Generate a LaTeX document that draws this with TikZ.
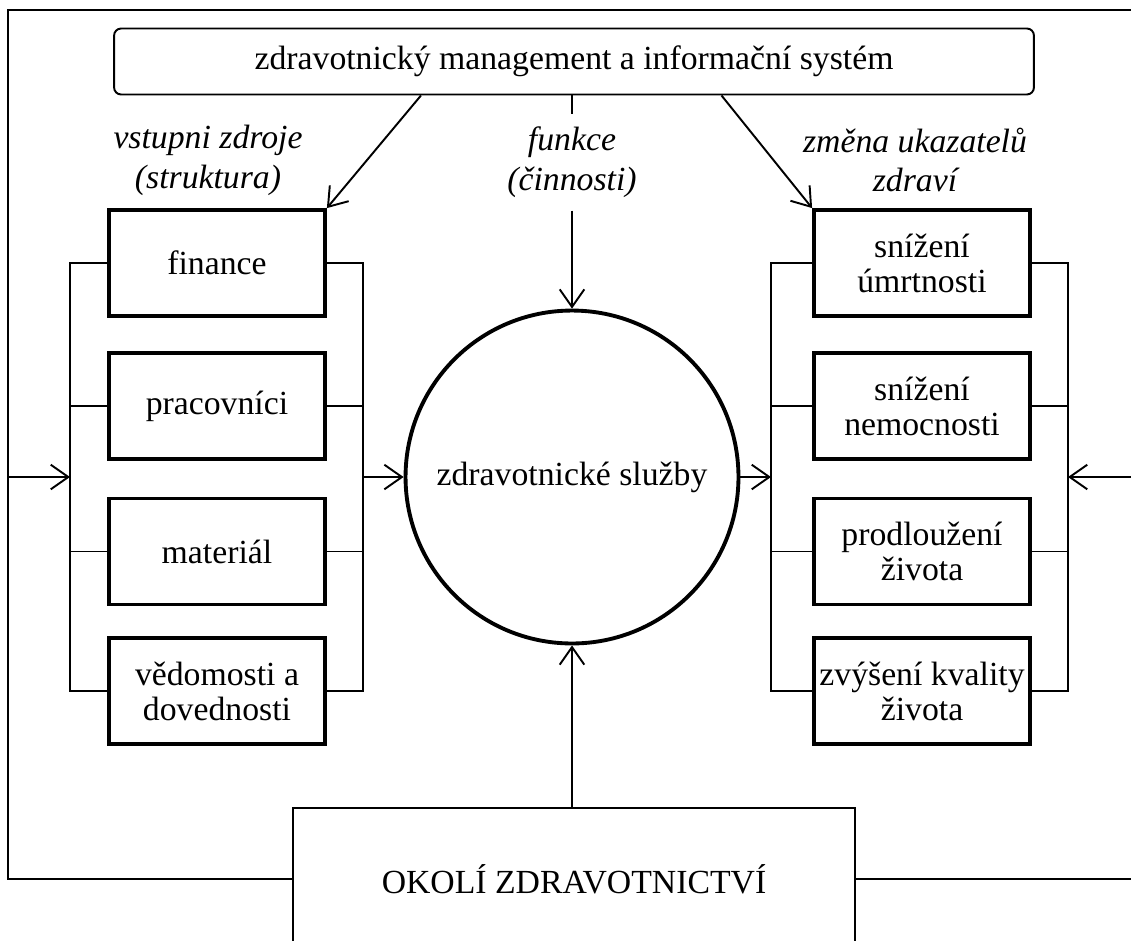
\documentclass[tikz,border=0pt]{standalone}
\usepackage{fontspec}
\setmainfont{Liberation Serif}
\usetikzlibrary{arrows.meta,positioning,calc}

\begin{document}
\begin{tikzpicture}[
  x=0.02cm, y=-0.02cm,
  every node/.style={font=\fontsize{19.2}{20}\selectfont},
  box/.style={rectangle, draw, line width=2.2pt, minimum width=4.32cm, minimum height=2.12cm, align=center, inner sep=1pt},
  mgmtbox/.style={rectangle, draw, rounded corners=4pt, line width=1.1pt, minimum width=18.4cm, minimum height=1.32cm},
  envbox/.style={rectangle, draw, line width=1.1pt, minimum width=11.24cm, minimum height=2.84cm},
  grouplabel/.style={align=center, font=\itshape\fontsize{19.2}{22.7}\selectfont},
  link/.style={line width=1.1pt},
  arrow/.style={link, -{Straight Barb[length=10pt,width=14pt]}}
]
\useasboundingbox (0,0) rectangle (1131,940);

% horni blok
\node[mgmtbox] (mgmt) at (574,61.5) {zdravotnický management a informační systém};

% stred
\node[circle, draw, line width=2.2pt, minimum size=6.66cm] (sluzby) at (572,477) {zdravotnické služby};
\node[grouplabel, inner sep=7pt] (funkce) at (572,162.5) {funkce\\(činnosti)};
\node[envbox] (okoli) at (574,879) {OKOLÍ ZDRAVOTNICTVÍ};

% levo: vstupni zdroje
\node[grouplabel] (vstup) at (208,160) {vstupni zdroje\\(struktura)};
\node[box] (fin) at (217,263) {finance};
\node[box] (prac) at (217,406) {pracovníci};
\node[box] (mat) at (217,551.5) {materiál};
\node[box] (ved) at (217,691) {vědomosti a\\dovednosti};

% pravo: ukazatele zdravi
\node[grouplabel] (zmena) at (915,160) {změna ukazatelů\\zdraví};
\node[box] (umrt) at (922,263) {snížení\\úmrtnosti};
\node[box] (nemoc) at (922,406) {snížení\\nemocnosti};
\node[box] (zivot) at (922,551.5) {prodloužení\\života};
\node[box] (kval) at (922,691) {zvýšení kvality\\života};

% sbernice
\coordinate (lbus) at (70,477);
\coordinate (lout) at (363,477);
\coordinate (rbus) at (771,477);
\coordinate (rout) at (1068,477);
\coordinate (tl) at (8,10);
\coordinate (tr) at (1131,10);
\coordinate (redge) at (1131,477);
\coordinate (rbottom) at (1131,879);

\draw[link] (fin.west) -| (lbus) |- (ved.west);
\draw[link] (fin.east) -| (lout) |- (ved.east);
\draw[link] (umrt.west) -| (rbus) |- (kval.west);
\draw[link] (umrt.east) -| (rout) |- (kval.east);
\foreach \b in {prac,mat} {
  \draw[link] (\b.west) -- (\b.west -| lbus);
  \draw[link] (\b.east) -- (\b.east -| lout);
}
\foreach \b in {nemoc,zivot} {
  \draw[link] (\b.west) -- (\b.west -| rbus);
  \draw[link] (\b.east) -- (\b.east -| rout);
}

% ramec okoli
\draw[link] (okoli.west) -| (tl) -- (tr);
\draw[link] (okoli.east) -- (rbottom);

% sipky
\draw[arrow] (tl |- lbus) -- (lbus);
\draw[arrow] (lout) -- (sluzby.west);
\draw[arrow] (sluzby.east) -- (rbus);
\draw[arrow] (redge) -- (rout);
\draw[arrow] (sluzby.south |- okoli.north) -- (sluzby.south);
\draw[arrow] ($(mgmt.south west)!0.334!(mgmt.south east)$) -- (fin.north east);
\draw[arrow] ($(mgmt.south west)!0.66!(mgmt.south east)$) -- (umrt.north west);
\draw[link] (mgmt.south -| funkce.north) -- (funkce.north);
\draw[arrow] (funkce.south) -- (sluzby.north);

\end{tikzpicture}
\end{document}
